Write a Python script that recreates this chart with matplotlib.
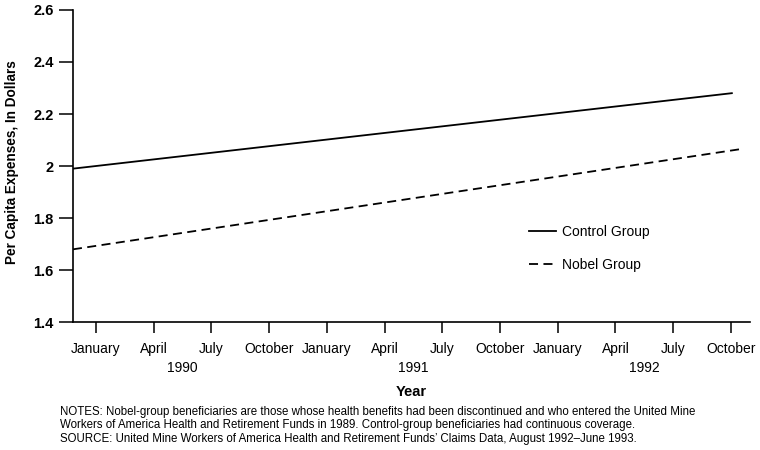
import numpy as np
import matplotlib.pyplot as plt

plt.rcParams['font.family'] = ['Liberation Sans', 'DejaVu Sans']

# Данные (месяцы от января 1990)
months = [-1.2, 33.05]
control = [1.99, 2.28]
nobel_months = [-1.2, 33.5]
nobel = [1.68, 2.065]

tick_months = np.arange(0, 34, 3)
month_labels = ['January', 'April', 'July', 'October'] * 3
year_pos = [4.5, 16.5, 28.5]
year_labels = ['1990', '1991', '1992']
y_ticks = [1.4, 1.6, 1.8, 2.0, 2.2, 2.4, 2.6]
y_labels = ['1.4', '1.6', '1.8', '2', '2.2', '2.4', '2.6']

fig = plt.figure(figsize=(7.6, 4.5), dpi=100)
ax = fig.add_axes([0.096, 0.284, 0.891, 0.694])

ax.plot(months, control, color='black', lw=1.3, label='Control Group')
ax.plot(nobel_months, nobel, color='black', lw=1.3, dashes=(5, 3), label='Nobel Group')

ax.set_xlim(-1.2, 34)
ax.set_ylim(1.4, 2.6)
ax.spines['top'].set_visible(False)
ax.spines['right'].set_visible(False)
ax.spines['left'].set_linewidth(1.2)
ax.spines['bottom'].set_linewidth(1.2)

ax.set_yticks(y_ticks)
ax.set_yticklabels(y_labels, fontsize=10.5, fontweight='bold')
ax.tick_params(axis='y', direction='out', length=10, width=1.1, pad=4)

ax.set_xticks(tick_months)
ax.set_xticklabels(month_labels, fontsize=10)
ax.tick_params(axis='x', direction='out', length=8, width=1.1, pad=6)
ax.set_xticks(year_pos, minor=True)
ax.set_xticklabels(year_labels, minor=True, fontsize=10)
ax.tick_params(axis='x', which='minor', length=0, pad=28)

ax.set_ylabel('Per Capita Expenses, In Dollars', fontsize=9.8, fontweight='bold')
ax.yaxis.set_label_coords(-0.079, 0.513)
ax.set_xlabel('Year', fontsize=10.5, fontweight='bold', labelpad=7)

ax.legend(loc='upper left', bbox_to_anchor=(0.679, 0.527), bbox_transform=fig.transFigure,
          frameon=False, fontsize=10, handlelength=2.0, handletextpad=0.4, labelspacing=1.35)

note_lines = ['NOTES: Nobel-group beneficiaries are those whose health benefits had been discontinued and who entered the United Mine',
              'Workers of America Health and Retirement Funds in 1989. Control-group beneficiaries had continuous coverage.',
              'SOURCE: United Mine Workers of America Health and Retirement Funds\u2019 Claims Data, August 1992\u2013June 1993.']
for txt, yy in zip(note_lines, [0.084, 0.056, 0.024]):
    fig.text(0.079, yy, txt, fontsize=8.3, va='center')

fig.savefig('out.png', dpi=100)
